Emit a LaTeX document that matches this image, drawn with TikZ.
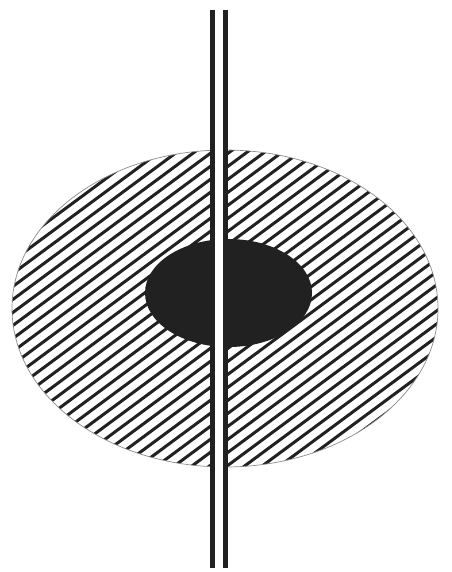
\documentclass[tikz,border=0pt]{standalone}
\begin{document}
\begin{tikzpicture}[x=1pt,y=-1pt,
  hatchline/.style={line width=3pt,color=black!87},
  rimline/.style={line width=0.7pt,color=black!45},
  corefill/.style={fill=black!87},
  pipewall/.style={line width=5pt,color=black!87}]
\useasboundingbox (0,0) rectangle (451,572);
\fill[white] (0,0) rectangle (451,572);
% outer hatched ellipse
\begin{scope}
  \clip (225,308.5) ellipse [x radius=213, y radius=158.5];
  \foreach \c in {140,153,...,820}{
    \draw[hatchline] (0,\c) -- (460,\c-0.74*460);
  }
\end{scope}
\draw[rimline] (225,308.5) ellipse [x radius=213, y radius=158.5];
% dark core
\fill[corefill] (228.5,293) ellipse [x radius=83.5, y radius=54];
% pipe
\fill[white] (214,0) rectangle (223.5,572);
\coordinate (lt) at (212.5,10);
\coordinate (lb) at (212.5,568);
\coordinate (rt) at (225.3,10);
\coordinate (rb) at (225.3,568);
\draw[pipewall] (lt) -- (lb);
\draw[pipewall] (rt) -- (rb);
\end{tikzpicture}
\end{document}
